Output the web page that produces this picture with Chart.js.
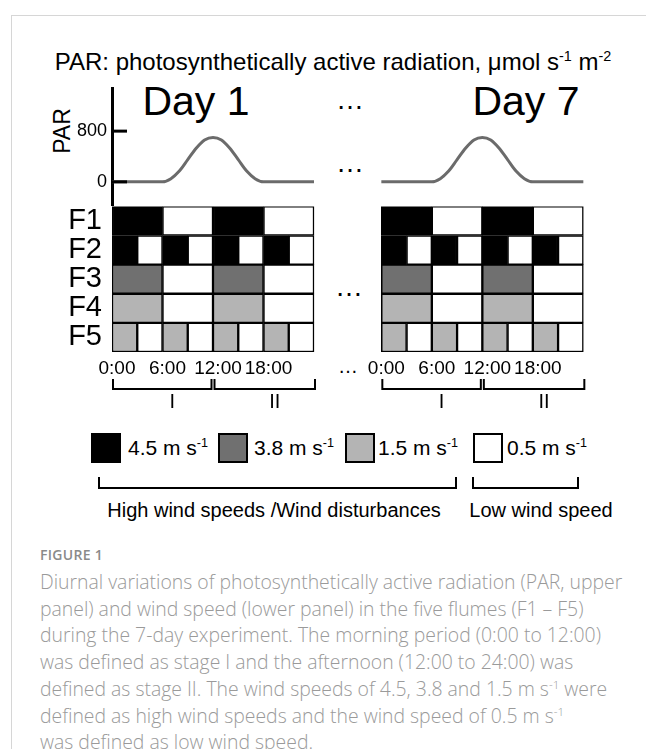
<!DOCTYPE html>
<html lang="en">
<head>
<meta charset="UTF-8">
<title>PAR and wind speed in the flumes</title>
<script src="https://cdn.jsdelivr.net/npm/chart.js"></script>
<style>
  body { margin: 0; width: 646px; height: 749px; background: #fff; position: relative; overflow: hidden;
         font-family: "Liberation Sans", Arial, sans-serif; color: #000; }
  .frame { position: absolute; left: 11px; top: 15px; width: 700px; height: 800px;
           border-top: 1px solid #d6d6d6; border-left: 1px solid #d6d6d6; }
  .t { position: absolute; white-space: nowrap; line-height: 1; }
  .c { transform: translate(-50%, -50%); }
  sup { font-size: 60%; line-height: 0; vertical-align: baseline; position: relative; top: -0.6em; }
  canvas { position: absolute; left: 0; }
  .sq { position: absolute; width: 30px; height: 30px; box-sizing: border-box; border: 2px solid #000; top: 433px; }
  .br { position: absolute; box-sizing: border-box; border: 2px solid #000; border-top: none; top: 477px; height: 12px; }
  .cap { position: absolute; left: 40px; white-space: nowrap; font-family: "Open Sans", "Liberation Sans", sans-serif; }
</style>
</head>
<body>
<div class="frame"></div>

<div class="t c" style="left:333px; top:62px; font-size:24px;">PAR: photosynthetically active radiation, μmol s<sup>-1</sup> m<sup>-2</sup></div>
<div class="t c" style="left:196px; top:101px; font-size:41px;">Day 1</div>
<div class="t c" style="left:526px; top:101px; font-size:41px;">Day 7</div>
<div class="t c" style="left:350px; top:100px; font-size:28px;">…</div>
<div class="t c" style="left:350px; top:163px; font-size:28px;">…</div>
<div class="t c" style="left:349px; top:287px; font-size:28px;">…</div>
<div class="t c" style="left:348px; top:366px; font-size:20px;">…</div>
<div class="t c" style="left:62px; top:131px; font-size:23px; transform: translate(-50%, -50%) rotate(-90deg);">PAR</div>

<canvas id="parChart" width="646" height="157" style="top:68px;"></canvas>
<canvas id="windChart" width="646" height="246" style="top:179px;"></canvas>

<div class="sq" style="left:91px; background:#000;"></div>
<div class="sq" style="left:218px; background:#707070;"></div>
<div class="sq" style="left:345px; background:#b4b4b4;"></div>
<div class="sq" style="left:473px; background:#fff;"></div>
<div class="t" style="left:128px; top:437px; font-size:21px;">4.5 m s<sup>-1</sup></div>
<div class="t" style="left:254px; top:437px; font-size:21px;">3.8 m s<sup>-1</sup></div>
<div class="t" style="left:378px; top:437px; font-size:21px;">1.5 m s<sup>-1</sup></div>
<div class="t" style="left:507px; top:437px; font-size:21px;">0.5 m s<sup>-1</sup></div>

<div class="br" style="left:98px; width:359px;"></div>
<div class="br" style="left:472px; width:107px;"></div>
<div class="t c" style="left:274px; top:510px; font-size:20px;">High wind speeds /Wind disturbances</div>
<div class="t c" style="left:541px; top:510px; font-size:20px;">Low wind speed</div>

<div class="cap" style="top:545px; font-size:14px; font-weight:600; color:#8a8a8a; letter-spacing:0.3px;">FIGURE 1</div>
<div class="cap" style="top:569px; font-size:19.4px; line-height:26.7px; font-weight:300; color:#9a9a9a;">
Diurnal variations of photosynthetically active radiation (PAR, upper<br>
panel) and wind speed (lower panel) in the five flumes (F1 – F5)<br>
during the 7-day experiment. The morning period (0:00 to 12:00)<br>
was defined as stage I and the afternoon (12:00 to 24:00) was<br>
defined as stage II. The wind speeds of 4.5, 3.8 and 1.5 m s<sup>-1</sup> were<br>
defined as high wind speeds and the wind speed of 0.5 m s<sup>-1</sup><br>
was defined as low wind speed.
</div>

<script>
// days that are drawn, and where each one starts on the shared hour axis
const DAYS = ['Day 1', 'Day 7'];
const DAY_START_H = [0, 32];

// PAR curve (umol s-1 m-2)
const PAR_HOURS  = [0, 6, 7, 8, 9, 10, 11, 12, 13, 14, 15, 16, 17, 18, 24];
const PAR_VALUES = [0, 0, 50, 170, 350, 530, 660, 700, 660, 530, 350, 170, 50, 0, 0];
const PAR_TICKS  = [0, 800];

// wind speed (m s-1) per 3 h block, 0:00 -> 24:00
const FLUMES = ['F1', 'F2', 'F3', 'F4', 'F5'];
const BLOCK_H = 3;
const WIND_F1 = [4.5, 4.5, 0.5, 0.5, 4.5, 4.5, 0.5, 0.5];
const WIND_F2 = [4.5, 0.5, 4.5, 0.5, 4.5, 0.5, 4.5, 0.5];
const WIND_F3 = [3.8, 3.8, 0.5, 0.5, 3.8, 3.8, 0.5, 0.5];
const WIND_F4 = [1.5, 1.5, 0.5, 0.5, 1.5, 1.5, 0.5, 0.5];
const WIND_F5 = [1.5, 0.5, 1.5, 0.5, 1.5, 0.5, 1.5, 0.5];
const WIND_SPEEDS = [4.5, 3.8, 1.5, 0.5];
const WIND_COLORS = ['#000000', '#707070', '#b4b4b4', '#ffffff'];

const TIME_TICKS  = [0, 6, 12, 18];
const TIME_LABELS = ['0:00', '6:00', '12:00', '18:00'];
const STAGES = ['I', 'II'];
const STAGE_H = [[0, 12], [12, 24]];

const X_MAX = 60;
const AXIS_W = 112;
const font = (size) => ({ family: '"Liberation Sans", Arial, sans-serif', size: size });

// ---- upper panel: PAR ----
const parTickMarks = {
    id: 'parTickMarks',
    afterDraw(chart) {
        const c = chart.ctx, y = chart.scales.y, left = chart.chartArea.left;
        c.save();
        c.strokeStyle = '#000';
        c.lineWidth = 3;
        PAR_TICKS.forEach(v => {
            const py = y.getPixelForValue(v);
            c.beginPath();
            c.moveTo(left, py);
            c.lineTo(left + 15, py);
            c.stroke();
        });
        c.restore();
    }
};

new Chart(document.getElementById('parChart'), {
    type: 'line',
    data: {
        datasets: DAYS.map((d, k) => ({
            label: d,
            data: PAR_HOURS.map((h, i) => ({ x: h + DAY_START_H[k], y: PAR_VALUES[i] })),
            borderColor: '#6b6b6b',
            borderWidth: 3,
            pointRadius: 0,
            fill: false,
            cubicInterpolationMode: 'monotone'
        }))
    },
    options: {
        responsive: false,
        animation: false,
        layout: { padding: { top: 20, right: 29, bottom: 20, left: 0 } },
        plugins: { legend: { display: false }, tooltip: { enabled: false } },
        scales: {
            x: { type: 'linear', min: 0, max: X_MAX, display: false },
            y: {
                min: -365, max: 1480,
                afterBuildTicks: s => { s.ticks = PAR_TICKS.map(v => ({ value: v })); },
                afterFit: s => { s.width = AXIS_W; },
                grid: { display: false, drawTicks: false },
                border: { display: true, color: '#000', width: 3 },
                ticks: { color: '#000', font: font(18), padding: 5 }
            }
        }
    },
    plugins: [parTickMarks]
});

// ---- lower panel: wind speed grid ----
const windRows = [WIND_F1, WIND_F2, WIND_F3, WIND_F4, WIND_F5];
const cells = WIND_SPEEDS.map(() => []);
windRows.forEach((row, f) => {
    DAY_START_H.forEach(start => {
        let i = 0;
        while (i < row.length) {
            let j = i;
            while (j + 1 < row.length && row[j + 1] === row[i]) j++;
            cells[WIND_SPEEDS.indexOf(row[i])].push({
                y: FLUMES[f],
                x: [start + i * BLOCK_H, start + (j + 1) * BLOCK_H]
            });
            i = j + 1;
        }
    });
});

const timeTickValues = DAY_START_H.flatMap(s => TIME_TICKS.map(h => s + h));
const timeTickLabels = DAY_START_H.flatMap(() => TIME_LABELS);

const stageBrackets = {
    id: 'stageBrackets',
    afterDraw(chart) {
        const c = chart.ctx, x = chart.scales.x;
        const top = chart.chartArea.bottom + 27, bottom = top + 10;
        c.save();
        c.strokeStyle = '#000';
        c.lineWidth = 2;
        c.fillStyle = '#000';
        c.font = '20px "Liberation Sans", Arial, sans-serif';
        c.textAlign = 'center';
        c.textBaseline = 'middle';
        DAY_START_H.forEach(s => {
            STAGE_H.forEach((r, k) => {
                const x1 = x.getPixelForValue(s + r[0]) + (k ? 1.5 : 1);
                const x2 = x.getPixelForValue(s + r[1]) - (k ? -1 : 1.5);
                c.beginPath();
                c.moveTo(x1, top);
                c.lineTo(x1, bottom);
                c.lineTo(x2, bottom);
                c.lineTo(x2, top);
                c.stroke();
                c.fillText(STAGES[k], (x1 + x2) / 2 + 10, bottom + 13);
            });
        });
        c.restore();
    }
};

new Chart(document.getElementById('windChart'), {
    type: 'bar',
    data: {
        labels: FLUMES,
        datasets: WIND_SPEEDS.map((w, k) => ({
            label: w + ' m s-1',
            data: cells[k],
            backgroundColor: WIND_COLORS[k],
            borderColor: '#000',
            borderWidth: 1.5,
            borderSkipped: false,
            grouped: false,
            barPercentage: 1,
            categoryPercentage: 1
        }))
    },
    options: {
        indexAxis: 'y',
        responsive: false,
        animation: false,
        layout: { padding: { top: 25, right: 29, bottom: 45, left: 0 } },
        plugins: { legend: { display: false }, tooltip: { enabled: false } },
        scales: {
            x: {
                type: 'linear', min: 0, max: X_MAX,
                afterBuildTicks: s => { s.ticks = timeTickValues.map(v => ({ value: v })); },
                afterFit: s => { s.height = 28; },
                grid: { display: false, drawTicks: false },
                border: { display: false },
                ticks: {
                    color: '#000', font: font(19), padding: 5, labelOffset: 5,
                    autoSkip: false, maxRotation: 0, minRotation: 0,
                    callback: (v, i) => timeTickLabels[i]
                }
            },
            y: {
                afterFit: s => { s.width = AXIS_W; },
                grid: { display: false, drawTicks: false },
                border: { display: false },
                ticks: { color: '#000', font: font(29), padding: 10, autoSkip: false }
            }
        }
    },
    plugins: [stageBrackets]
});
</script>
</body>
</html>
